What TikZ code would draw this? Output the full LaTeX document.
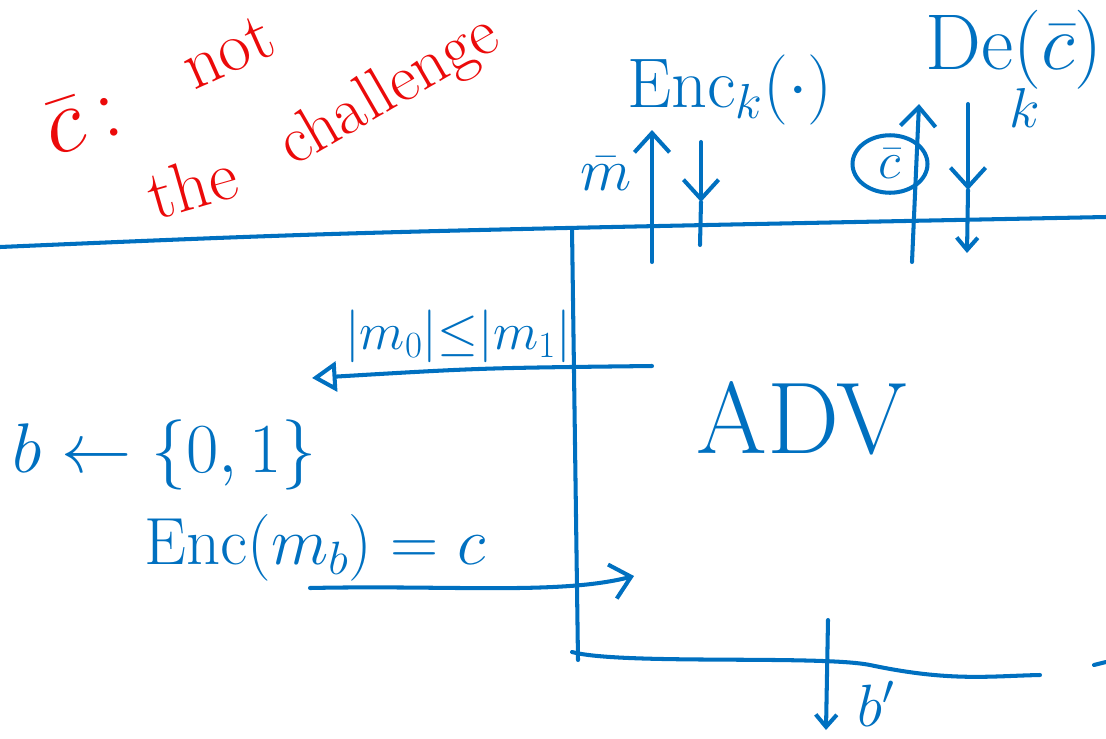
\RequirePackage{fix-cm}
\documentclass[tikz,border=0pt]{standalone}
\usepackage{amsmath}
\usetikzlibrary{arrows.meta,shapes.geometric}
\definecolor{ink}{RGB}{0,112,192}
\definecolor{redink}{RGB}{235,10,10}
\newcommand{\fsz}[1]{\fontsize{#1}{#1}\selectfont}
\tikzset{pen/.style={draw=ink, line width=2.3pt, line cap=round, line join=round},
  barb/.style={-{Straight Barb[length=11pt,width=20pt,line width=2.3pt]}},
  smallbarb/.style={-{Straight Barb[length=7pt,width=12pt,line width=2.3pt]}},
  openhead/.style={-{Triangle[open,length=14pt,width=17pt,line width=2.3pt]}}}

\begin{document}
\begin{tikzpicture}[x=0.02cm, y=-0.02cm, every node/.style={text=ink, inner sep=0pt}]
\useasboundingbox (0,0) rectangle (1106,738);
% red note
\draw (82,120) node[text=redink, rotate=18] (cbar) {\fsz{52}$\bar{c}$\,:};
\draw (228,52) node[text=redink, rotate=24] (not) {\fsz{40}not};
\draw (192,185) node[text=redink, rotate=16] (the) {\fsz{40}the};
\draw (390,92) node[text=redink, rotate=30] (chal) {\fsz{38}challenge};
% the two parties
\coordinate (tl) at (0,247);
\coordinate (tr) at (1106,217);
\coordinate (vt) at (572,228);
\coordinate (vb) at (578,660);
\coordinate (bl) at (572,652);
\coordinate (br) at (1040,675);
\draw[pen] (tl) .. controls (350,232) .. (tr);
\draw[pen] (vt) -- (vb);
\draw[pen] (bl) .. controls (620,665) and (820,655) .. (870,665) .. controls (950,682) and (990,676) .. (br);
\coordinate (dl) at (1094,665);
\coordinate (dr) at (1106,662);
\draw[pen] (dl) -- (dr);
\draw (802,418) node (adv) {\fsz{58}ADV};
% oracle calls at the top
\draw (606,174) node (mbar) {\fsz{34}$\bar{m}$};
\coordinate (m0) at (652,262);
\coordinate (m1) at (652,130);
\draw[pen, barb] (m0) -- (m1);
\draw (730,90) node (enc) {\fsz{40}$\mathrm{Enc}_k(\cdot)$};
\coordinate (e0) at (701,142);
\coordinate (e1) at (701,202);
\coordinate (e2) at (700,245);
\draw[pen, barb] (e0) -- (e1);
\draw[pen] (e1) -- (e2);
\draw (1014,50) node (dec) {\fsz{45}De$(\bar{c})$};
\draw (1025,108) node (kk) {\fsz{32}$k$};
\draw (890,164) node[ellipse, draw=ink, line width=2.3pt, minimum width=1.5cm, minimum height=1.15cm] (circ) {\fsz{30}$\bar{c}$};
\coordinate (c0) at (912,262);
\coordinate (c1) at (919,104);
\draw[pen, barb] (c0) -- (c1);
\coordinate (d0) at (968,104);
\coordinate (d1) at (968,190);
\coordinate (d2) at (967,253);
\draw[pen, barb] (d0) -- (d1);
\draw[pen, smallbarb] (d1) -- (d2);
% challenge phase
\draw (458,336) node (len) {\fsz{30}$|m_0|{\le}|m_1|$};
\coordinate (q1) at (652,366);
\coordinate (q0) at (312,378);
\draw[pen, openhead] (q1) .. controls (480,368) .. (q0);
\draw (165,455) node (bit) {\fsz{40}$b\leftarrow\{0,1\}$};
\draw (315,548) node (ct) {\fsz{38}$\mathrm{Enc}(m_b)=c$};
\coordinate (s0) at (310,588);
\coordinate (s1) at (634,576);
\draw[pen, barb] (s0) .. controls (450,585) and (560,595) .. (s1);
% answer
\coordinate (g0) at (828,620);
\coordinate (g1) at (826,730);
\draw[pen, smallbarb] (g0) -- (g1);
\draw (876,704) node (bp) {\fsz{34}$b'$};
\end{tikzpicture}
\end{document}
